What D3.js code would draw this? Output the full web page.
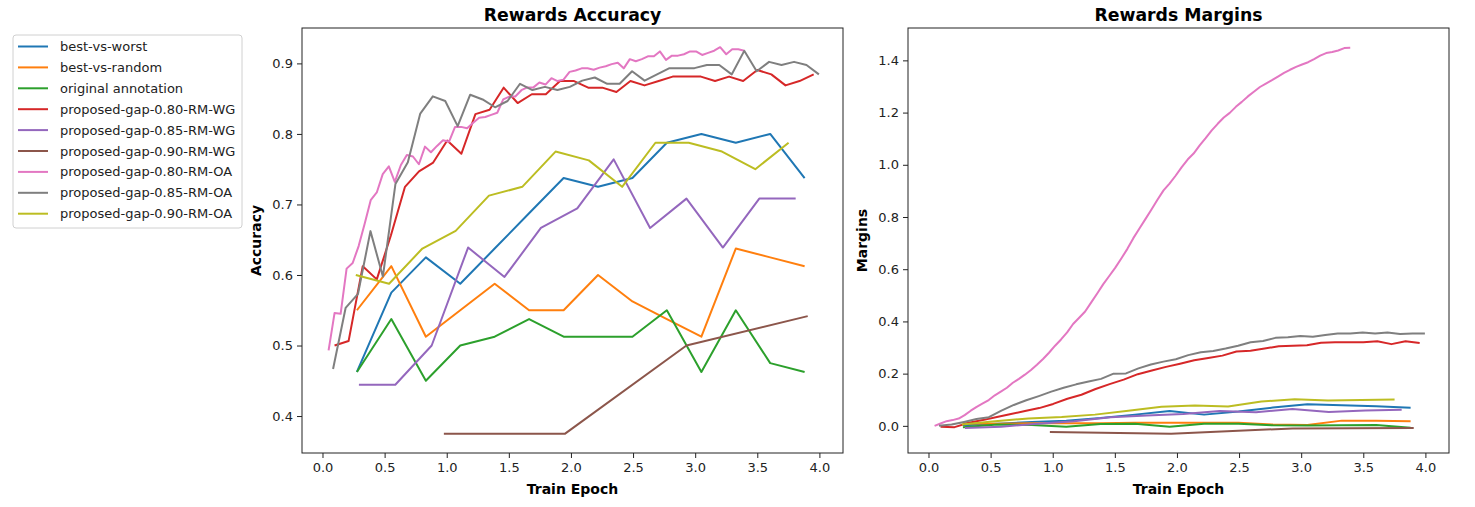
<!DOCTYPE html>
<html>

<head>
    <meta charset='utf-8'>
    <title>Rewards Accuracy / Margins</title>
    <script type='text/javascript' src='https://cdn.jsdelivr.net/npm/d3@7'></script>
    <style>
        body { margin: 0; background: #fff; }
        svg { font-family: 'DejaVu Sans', sans-serif; }
    </style>
</head>

<body>
    <svg width='1475' height='507'></svg>
    <script type='text/javascript'>
        // series names (legend order = plot order)
        const seriesNames = ['best-vs-worst', 'best-vs-random', 'original annotation',
            'proposed-gap-0.80-RM-WG', 'proposed-gap-0.85-RM-WG', 'proposed-gap-0.90-RM-WG',
            'proposed-gap-0.80-RM-OA', 'proposed-gap-0.85-RM-OA', 'proposed-gap-0.90-RM-OA']

        // eval epochs of each run
        const epochsBase = [0.277, 0.554, 0.832, 1.109, 1.386, 1.663, 1.941, 2.218, 2.495, 2.772, 3.050, 3.327, 3.604, 3.881]
        const epochsWG80 = [0.097, 0.210, 0.324, 0.437, 0.551, 0.664, 0.777, 0.891, 1.004, 1.118, 1.231, 1.345, 1.458, 1.571, 1.685, 1.798, 1.912, 2.025,
            2.139, 2.252, 2.366, 2.479, 2.592, 2.706, 2.819, 2.933, 3.046, 3.160, 3.273, 3.386, 3.500, 3.613, 3.727, 3.840, 3.954]
        const epochsWG85 = [0.293, 0.586, 0.879, 1.172, 1.465, 1.758, 2.051, 2.344, 2.637, 2.930, 3.223, 3.516, 3.809]
        const epochsWG90 = [0.977, 1.953, 2.930, 3.906]
        const epochsOA80 = [0.049, 0.097, 0.146, 0.194, 0.243, 0.291, 0.340, 0.388, 0.437, 0.485, 0.534, 0.582, 0.631, 0.679, 0.728, 0.776, 0.825, 0.873,
            0.922, 0.970, 1.019, 1.067, 1.116, 1.164, 1.213, 1.261, 1.310, 1.358, 1.407, 1.455, 1.504, 1.552, 1.601, 1.649, 1.698, 1.746, 1.795, 1.843,
            1.892, 1.940, 1.989, 2.037, 2.086, 2.134, 2.183, 2.231, 2.280, 2.328, 2.377, 2.425, 2.474, 2.522, 2.571, 2.619, 2.668, 2.716, 2.765, 2.813,
            2.862, 2.910, 2.959, 3.007, 3.056, 3.104, 3.153, 3.201, 3.250, 3.298, 3.347, 3.395]
        const epochsOA85 = [0.085, 0.186, 0.286, 0.386, 0.486, 0.587, 0.687, 0.787, 0.888, 0.988, 1.088, 1.189, 1.289, 1.389, 1.490, 1.590, 1.690, 1.790,
            1.891, 1.991, 2.091, 2.192, 2.292, 2.392, 2.492, 2.593, 2.693, 2.793, 2.893, 2.994, 3.094, 3.194, 3.294, 3.395, 3.495, 3.595, 3.695, 3.796,
            3.896, 3.996]
        const epochsOA90 = [0.268, 0.536, 0.804, 1.072, 1.340, 1.608, 1.876, 2.144, 2.412, 2.680, 2.948, 3.216, 3.484, 3.752]

        // rewards accuracy
        const accBestWorst = [0.4625, 0.575, 0.625, 0.5875, 0.6375, 0.6875, 0.7375, 0.725, 0.7375, 0.7875, 0.80, 0.7875, 0.80, 0.7375]
        const accBestRandom = [0.55, 0.6125, 0.5125, 0.55, 0.5875, 0.55, 0.55, 0.60, 0.5625, 0.5375, 0.5125, 0.6375, 0.625, 0.6125]
        const accOriginal = [0.4625, 0.5375, 0.45, 0.50, 0.5125, 0.5375, 0.5125, 0.5125, 0.5125, 0.55, 0.4625, 0.55, 0.475, 0.4625]
        const accWG80 = [0.500, 0.5063, 0.6125, 0.5938, 0.6563, 0.725, 0.7469, 0.7594, 0.7906, 0.7719, 0.8281, 0.8344, 0.8656, 0.8438, 0.8563, 0.8563,
            0.875, 0.875, 0.8656, 0.8656, 0.8594, 0.875, 0.8688, 0.875, 0.8813, 0.8813, 0.8813, 0.875, 0.8813, 0.875, 0.8906, 0.8844, 0.8688, 0.875, 0.8844]
        const accWG85 = [0.4444, 0.4444, 0.5, 0.6389, 0.5972, 0.6667, 0.6944, 0.7639, 0.6667, 0.7083, 0.6389, 0.7083, 0.7083]
        const accWG90 = [0.375, 0.375, 0.5, 0.5417]
        const accOA80 = [0.493, 0.546, 0.545, 0.609, 0.617, 0.641, 0.673, 0.706, 0.717, 0.743,
            0.754, 0.732, 0.756, 0.770, 0.768, 0.757, 0.782, 0.774, 0.783, 0.791,
            0.789, 0.810, 0.810, 0.808, 0.816, 0.823, 0.824, 0.827, 0.830, 0.849,
            0.853, 0.853, 0.862, 0.866, 0.866, 0.873, 0.870, 0.879, 0.875, 0.877,
            0.888, 0.890, 0.893, 0.893, 0.891, 0.894, 0.896, 0.899, 0.901, 0.893,
            0.906, 0.903, 0.906, 0.910, 0.910, 0.917, 0.905, 0.911, 0.911, 0.913,
            0.917, 0.917, 0.912, 0.915, 0.918, 0.923, 0.913, 0.920, 0.920, 0.918]
        const accOA85 = [0.4667, 0.5533, 0.5733, 0.6622, 0.5978, 0.7289, 0.7600, 0.8289, 0.8533, 0.8467, 0.8111, 0.8556, 0.8489, 0.8378, 0.8467, 0.8711,
            0.8622, 0.8667, 0.8622, 0.8667, 0.8756, 0.8800, 0.8711, 0.8711, 0.8889, 0.8756, 0.8844, 0.8933, 0.8933, 0.8933, 0.8978, 0.8978, 0.8844,
            0.9178, 0.8889, 0.9022, 0.8978, 0.9022, 0.8978, 0.8844]
        const accOA90 = [0.60, 0.5875, 0.6375, 0.6625, 0.7125, 0.725, 0.775, 0.7625, 0.725, 0.7875, 0.7875, 0.775, 0.75, 0.7875]

        // rewards margins
        const margBestWorst = [0.002, 0.008, 0.015, 0.020, 0.030, 0.043, 0.057, 0.043, 0.055, 0.070, 0.083, 0.079, 0.075, 0.069]
        const margBestRandom = [0.010, 0.008, 0.010, 0.010, 0.010, 0.012, 0.012, 0.012, 0.012, 0.005, 0.003, 0.020, 0.020, 0.018]
        const margOriginal = [-0.005, 0.005, 0.003, -0.003, 0.007, 0.008, -0.003, 0.008, 0.008, 0.002, 0.001, 0.002, 0.003, -0.007]
        const margWG80 = [-0.003, -0.005, 0.012, 0.022, 0.034, 0.045, 0.057, 0.068, 0.084, 0.104, 0.119, 0.141, 0.160, 0.177, 0.198, 0.212, 0.226,
            0.238, 0.251, 0.260, 0.269, 0.285, 0.288, 0.296, 0.305, 0.307, 0.309, 0.318, 0.320, 0.320, 0.320, 0.324, 0.313, 0.324, 0.317]
        const margWG85 = [-0.008, -0.003, 0.008, 0.018, 0.033, 0.040, 0.045, 0.057, 0.052, 0.065, 0.053, 0.059, 0.062]
        const margWG90 = [-0.024, -0.030, -0.010, -0.008]
        const margOA80 = [0.000, 0.009, 0.018, 0.022, 0.028, 0.041, 0.058, 0.073, 0.086, 0.099,
            0.117, 0.131, 0.146, 0.165, 0.180, 0.196, 0.214, 0.234, 0.256, 0.280,
            0.307, 0.331, 0.358, 0.390, 0.414, 0.438, 0.473, 0.507, 0.543, 0.574,
            0.606, 0.641, 0.678, 0.719, 0.756, 0.792, 0.829, 0.866, 0.902, 0.928,
            0.958, 0.990, 1.020, 1.043, 1.074, 1.102, 1.132, 1.157, 1.181, 1.199,
            1.222, 1.241, 1.262, 1.280, 1.298, 1.311, 1.324, 1.338, 1.352, 1.364,
            1.375, 1.384, 1.393, 1.405, 1.418, 1.428, 1.432, 1.438, 1.447, 1.448]
        const margOA85 = [0.000, 0.005, 0.015, 0.026, 0.033, 0.058, 0.080, 0.098, 0.114, 0.131, 0.146, 0.159, 0.170, 0.180, 0.200, 0.201, 0.220,
            0.235, 0.246, 0.255, 0.271, 0.282, 0.287, 0.296, 0.307, 0.320, 0.325, 0.337, 0.339, 0.344, 0.341, 0.348, 0.354, 0.354, 0.358, 0.354,
            0.358, 0.352, 0.354, 0.354]
        const margOA90 = [0.005, 0.018, 0.028, 0.034, 0.043, 0.058, 0.073, 0.078, 0.074, 0.093, 0.102, 0.097, 0.099, 0.101]

        const xTicks = [0, 0.5, 1, 1.5, 2, 2.5, 3, 3.5, 4]
        const accTicks = [0.4, 0.5, 0.6, 0.7, 0.8, 0.9]
        const margTicks = [0, 0.2, 0.4, 0.6, 0.8, 1.0, 1.2, 1.4]

        const colors = d3.schemeCategory10
        const runEpochs = [epochsBase, epochsBase, epochsBase, epochsWG80, epochsWG85, epochsWG90, epochsOA80, epochsOA85, epochsOA90]
        const runAcc = [accBestWorst, accBestRandom, accOriginal, accWG80, accWG85, accWG90, accOA80, accOA85, accOA90]
        const runMarg = [margBestWorst, margBestRandom, margOriginal, margWG80, margWG85, margWG90, margOA80, margOA85, margOA90]

        const svg = d3.select('svg')
        svg.append('rect').attr('width', 1475).attr('height', 507).attr('fill', '#fff')

        function panel(left, title, ylabel, ys, yDomain, yTicks) {
            const w = 541, h = 425, top = 28
            const g = svg.append('g').attr('transform', `translate(${left},${top})`)
            const x = d3.scaleLinear().domain([-0.165, 4.19]).range([0, w])
            const y = d3.scaleLinear().domain(yDomain).range([h, 0])

            const line = d3.line().x(d => x(d[0])).y(d => y(d[1]))
            // clip like matplotlib axes
            const cid = 'clip' + left
            g.append('clipPath').attr('id', cid).append('rect').attr('width', w).attr('height', h)
            const lines = g.append('g').attr('clip-path', `url(#${cid})`)
            ys.forEach((vals, i) => {
                const pts = runEpochs[i].map((e, j) => [e, vals[j]])
                lines.append('path')
                    .attr('d', line(pts))
                    .attr('fill', 'none')
                    .attr('stroke', colors[i])
                    .attr('stroke-width', 2)
                    .attr('stroke-linejoin', 'round')
            })

            const xAxis = g.append('g').attr('transform', `translate(0,${h})`)
                .call(d3.axisBottom(x).tickValues(xTicks).tickFormat(d3.format('.1f')).tickSize(5).tickSizeOuter(0).tickPadding(5))
            const yAxis = g.append('g')
                .call(d3.axisLeft(y).tickValues(yTicks).tickFormat(d3.format('.1f')).tickSize(5).tickSizeOuter(0).tickPadding(4))
            for (const a of [xAxis, yAxis]) {
                a.select('.domain').remove()
                a.selectAll('text').attr('font-size', 13).attr('fill', '#222').attr('font-family', 'DejaVu Sans')
                a.selectAll('line').attr('stroke', '#222')
            }
            g.append('rect').attr('width', w).attr('height', h)
                .attr('fill', 'none').attr('stroke', '#222').attr('stroke-width', 1)

            g.append('text').attr('x', w / 2).attr('y', -7.3).attr('text-anchor', 'middle')
                .attr('font-size', 17.3).attr('font-weight', 'bold').text(title)
            g.append('text').attr('x', w / 2).attr('y', h + 41).attr('text-anchor', 'middle')
                .attr('font-size', 14).attr('font-weight', 'bold').text('Train Epoch')
            g.append('text').attr('transform', `translate(-41,${h / 2}) rotate(-90)`).attr('text-anchor', 'middle')
                .attr('font-size', 14).attr('font-weight', 'bold').text(ylabel)
        }

        panel(302, 'Rewards Accuracy', 'Accuracy', runAcc, [0.3476, 0.9502], accTicks)
        panel(908, 'Rewards Margins', 'Margins', runMarg, [-0.104, 1.524], margTicks)

        // legend
        const legend = svg.append('g').attr('transform', 'translate(13,35)')
        legend.append('rect').attr('width', 229).attr('height', 193).attr('rx', 3)
            .attr('fill', '#fff').attr('stroke', '#d0d0d0').attr('stroke-width', 1)
        const item = legend.selectAll('g.item').data(seriesNames).enter().append('g')
            .attr('transform', (d, i) => `translate(0,${11.5 + i * 20.9})`)
        item.append('line').attr('x1', 5).attr('x2', 35)
            .attr('stroke', (d, i) => colors[i]).attr('stroke-width', 2)
        item.append('text').attr('x', 47).attr('dy', '0.35em')
            .attr('font-size', 13).attr('fill', '#222').text(d => d)
    </script>
</body>

</html>
